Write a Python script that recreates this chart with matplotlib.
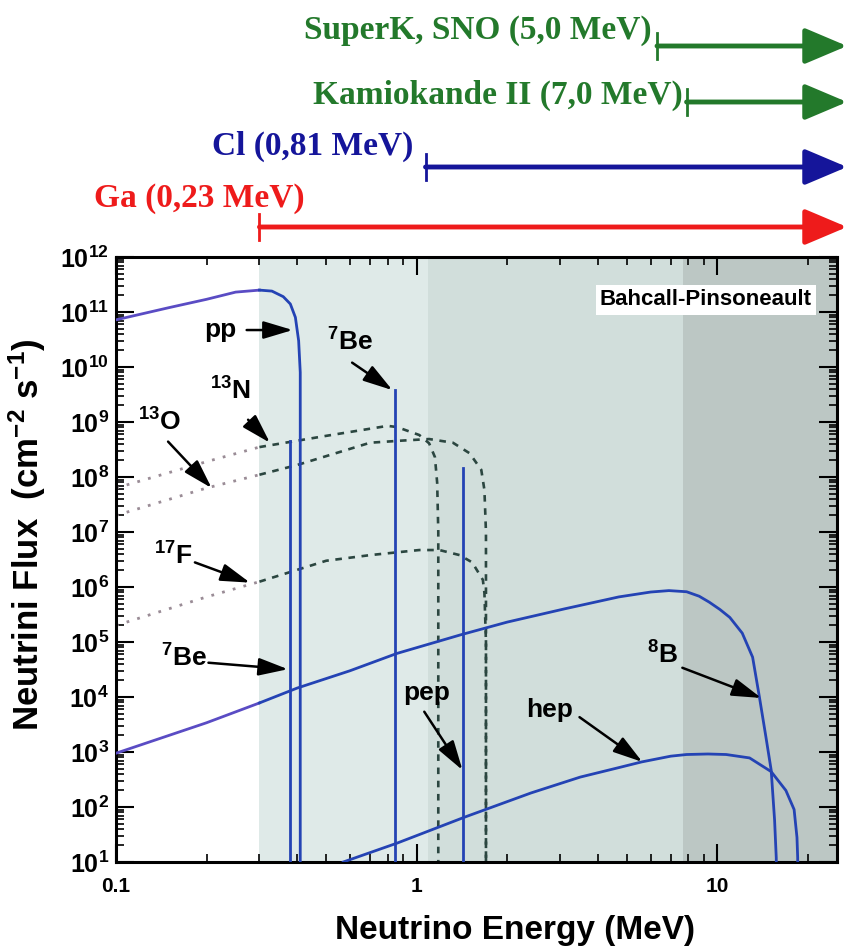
import numpy as np
import matplotlib
matplotlib.use('Agg')
import matplotlib.pyplot as plt
from matplotlib import transforms
from matplotlib.ticker import LogLocator, FuncFormatter, NullFormatter

plt.rcParams['font.family'] = ['Liberation Sans', 'DejaVu Sans']
plt.rcParams['font.weight'] = 'bold'
plt.rcParams['mathtext.fontset'] = 'custom'
plt.rcParams['mathtext.rm'] = 'Liberation Sans:bold'
plt.rcParams['mathtext.it'] = 'Liberation Sans:bold'
plt.rcParams['mathtext.bf'] = 'Liberation Sans:bold'

# spectra (MeV, cm^-2 s^-1)
pp_E = [0.1, 0.15, 0.2, 0.25, 0.3, 0.33, 0.36, 0.38, 0.395, 0.405, 0.41, 0.41]
pp_F = [7.2e10, 1.2e11, 1.7e11, 2.3e11, 2.5e11, 2.4e11, 1.9e11, 1.4e11, 8e10, 3e10, 8e9, 1]

b8_E = [0.1, 0.2, 0.3, 0.4, 0.6, 0.86, 1.4, 2.0, 3.1, 4.7, 6.0, 6.9, 7.9, 8.7, 9.4, 10.2, 11.0,
        12.1, 13.1, 13.8, 14.5, 15.1, 15.5, 15.7, 15.75]
b8_F = [9.5e2, 3.4e3, 7.8e3, 1.45e4, 3.0e4, 6.2e4, 1.35e5, 2.3e5, 4.0e5, 6.6e5, 8.1e5, 8.6e5,
        8.2e5, 6.8e5, 5.3e5, 3.9e5, 2.8e5, 1.45e5, 5.3e4, 1e4, 1.9e3, 4.7e2, 58, 12, 1]

hep_E = [0.57, 0.86, 1.45, 2.4, 3.5, 4.7, 5.6, 7.0, 7.9, 9.3, 10.7, 12.8, 15.1, 16.9, 18.0, 18.4, 18.5, 18.52]
hep_F = [10, 22, 66, 1.8e2, 3.5e2, 5.2e2, 6.6e2, 8.4e2, 9e2, 9.2e2, 9.0e2, 7.8e2, 4.4e2, 2.0e2, 90, 28, 12, 1]

n13_E = [0.1, 0.2, 0.3, 0.5, 0.8, 0.86, 1.02, 1.10, 1.15, 1.17, 1.18, 1.18]
n13_F = [6.3e7, 1.9e8, 3.5e8, 5.6e8, 8.5e8, 8.1e8, 5.8e8, 4.1e8, 2.3e8, 7.8e7, 1e7, 1]

o15_E = [0.1, 0.2, 0.3, 0.4, 0.7, 0.9, 1.1, 1.32, 1.5, 1.64, 1.68, 1.70, 1.70]
o15_F = [2e7, 6.3e7, 1.1e8, 1.65e8, 4.2e8, 4.6e8, 4.9e8, 4.2e8, 2.7e8, 1.35e8, 5.8e7, 1e7, 1]

f17_E = [0.1, 0.2, 0.3, 0.5, 0.7, 1.02, 1.19, 1.39, 1.53, 1.66, 1.68, 1.70, 1.70]
f17_F = [2e5, 6.6e5, 1.25e6, 3.0e6, 3.8e6, 4.7e6, 4.7e6, 3.8e6, 2.8e6, 1.35e6, 7.8e5, 1e5, 1]

# monoenergetic lines
line_E = [0.38, 0.85, 1.43]
line_F = [4.5e8, 3.8e9, 1.45e8]

# shaded detector windows
shade_edges = [0.30, 1.09, 7.7, 25]
shade_colors = ['#dfeae8', '#d1dedb', '#bcc7c4']

# thresholds drawn above the frame
thr_names = ['SuperK, SNO (5,0 MeV)', 'Kamiokande II (7,0 MeV)', 'Cl (0,81 MeV)', 'Ga (0,23 MeV)']
thr_start = [6.3, 7.9, 1.07, 0.30]
thr_colors = ['#23792b', '#23792b', '#15159a', '#ee1b1b']
thr_arrow_y = [46, 102, 167, 227]
thr_text_xy = [(652, 31), (683, 95), (413, 146), (305, 199)]

fig = plt.figure(figsize=(8.5, 9.49), dpi=100)
W, H = 850., 949.
ax = fig.add_axes([116 / W, 1 - 862 / H, (837 - 116) / W, (862 - 257) / H])
ax.set_xscale('log')
ax.set_yscale('log')

for i in range(3):
    ax.axvspan(shade_edges[i], shade_edges[i + 1], color=shade_colors[i], lw=0, zorder=0)

cut = 0.3
def split_plot(E, F, kw_left, kw_right):
    E = np.array(E)
    F = np.array(F)
    ax.plot(E[E <= cut], F[E <= cut], **kw_left)
    ax.plot(E[E >= cut], F[E >= cut], **kw_right)

blue_l = dict(color='#5a4cc4', lw=2.0, zorder=3)
blue_r = dict(color='#2443b4', lw=2.0, zorder=3)
dash_l = dict(color='#9a8c96', lw=2.0, ls=(0, (1, 3)), zorder=2)
dash_r = dict(color='#2b4640', lw=1.9, ls=(0, (2.5, 2.5)), zorder=2)

split_plot(pp_E, pp_F, blue_l, blue_r)
split_plot(b8_E, b8_F, blue_l, blue_r)
ax.plot(hep_E, hep_F, **blue_r)
for e, f in zip(line_E, line_F):
    ax.plot([e, e], [1, f], **blue_r)
split_plot(n13_E, n13_F, dash_l, dash_r)
split_plot(o15_E, o15_F, dash_l, dash_r)
split_plot(f17_E, f17_F, dash_l, dash_r)

# labels with arrows: text position, arrow tail, arrow tip
labels = [
    ('pp', (0.222, 4.7e10), (0.272, 4.7e10), (0.387, 4.7e10)),
    ('$^{7}$Be', (0.60, 2.8e10), (0.61, 1.2e10), (0.83, 3.8e9)),
    ('$^{13}$N', (0.240, 3.6e9), (0.275, 1.1e9), (0.325, 4.2e8)),
    ('$^{13}$O', (0.140, 1.0e9), (0.149, 4.4e8), (0.208, 6.3e7)),
    ('$^{17}$F', (0.155, 3.7e6), (0.183, 2.8e6), (0.279, 1.2e6)),
    ('$^{7}$Be', (0.168, 5.2e4), (0.203, 4.2e4), (0.373, 3.2e4)),
    ('pep', (1.08, 1.2e4), (1.06, 5.4e3), (1.42, 4.7e2)),
    ('hep', (2.77, 5.8e3), (3.48, 4.3e3), (5.63, 6.6e2)),
    ('$^{8}$B', (6.55, 5.8e4), (7.65, 3.4e4), (14.0, 9.6e3)),
]
for txt, pos, tail, tip in labels:
    ax.text(pos[0], pos[1], txt, fontsize=19, ha='center', va='center', zorder=5)
    ax.annotate('', xy=tip, xytext=tail,
                arrowprops=dict(arrowstyle='-|>,head_length=1.0,head_width=0.3', color='black',
                                lw=1.8, mutation_scale=18, shrinkA=0, shrinkB=0), zorder=5)

ax.text(0.818, 0.929, 'Bahcall-Pinsoneault', transform=ax.transAxes, ha='center', va='center',
        fontsize=16, bbox=dict(facecolor='white', edgecolor='none', pad=3), zorder=6)

ax.set_xlim(0.1, 25)
ax.set_ylim(10, 1e12)
ax.set_xticks([0.1, 1, 10], ['0.1', '1', '10'])
ax.xaxis.set_minor_locator(LogLocator(base=10, subs=np.arange(2, 10)))
ax.xaxis.set_minor_formatter(NullFormatter())
ax.yaxis.set_major_locator(LogLocator(base=10, numticks=20))
ax.yaxis.set_minor_locator(LogLocator(base=10, subs=np.arange(2, 10), numticks=20))
ax.yaxis.set_major_formatter(FuncFormatter(lambda v, p: r'$10^{%d}$' % int(round(np.log10(v)))))
ax.yaxis.set_minor_formatter(NullFormatter())
ax.tick_params(which='both', direction='in', top=True, right=True)
ax.tick_params(which='major', length=13, width=1.5)
ax.tick_params(which='minor', length=6, width=1.2)
ax.tick_params(axis='x', which='major', labelsize=15, pad=11)
ax.tick_params(axis='y', which='major', labelsize=18, pad=5)
for s in ax.spines.values():
    s.set_linewidth(2.2)

ax.set_xlabel('Neutrino Energy (MeV)', fontsize=24, fontweight='bold')
ax.xaxis.set_label_coords(0.553, -0.088)
ax.set_ylabel('Neutrini Flux  (cm$^{-2}$ s$^{-1}$)', fontsize=25, fontweight='bold')
ax.yaxis.set_label_coords(-0.094, 0.54)

# threshold arrows above the plot
trans = transforms.blended_transform_factory(ax.transData, fig.transFigure)
for name, e0, c, ay, (tx, ty) in zip(thr_names, thr_start, thr_colors, thr_arrow_y, thr_text_xy):
    yf = 1 - ay / H
    ax.annotate('', xy=(27, yf), xytext=(e0, yf), xycoords=('data', 'figure fraction'),
                textcoords=('data', 'figure fraction'), annotation_clip=False,
                arrowprops=dict(arrowstyle='-|>,head_length=1.3,head_width=0.55', color=c,
                                lw=3.5, mutation_scale=20, shrinkA=0, shrinkB=0))
    ax.plot([e0, e0], [yf - 0.0142, yf + 0.0142], color=c, lw=2, transform=trans, clip_on=False)
    fig.text(tx / W, 1 - ty / H, name, ha='right', va='center', fontsize=24,
             family='Liberation Serif', weight='bold', color=c)

ax.set_xlim(0.1, 25)
ax.set_ylim(10, 1e12)
fig.savefig('out.png', dpi=100)
